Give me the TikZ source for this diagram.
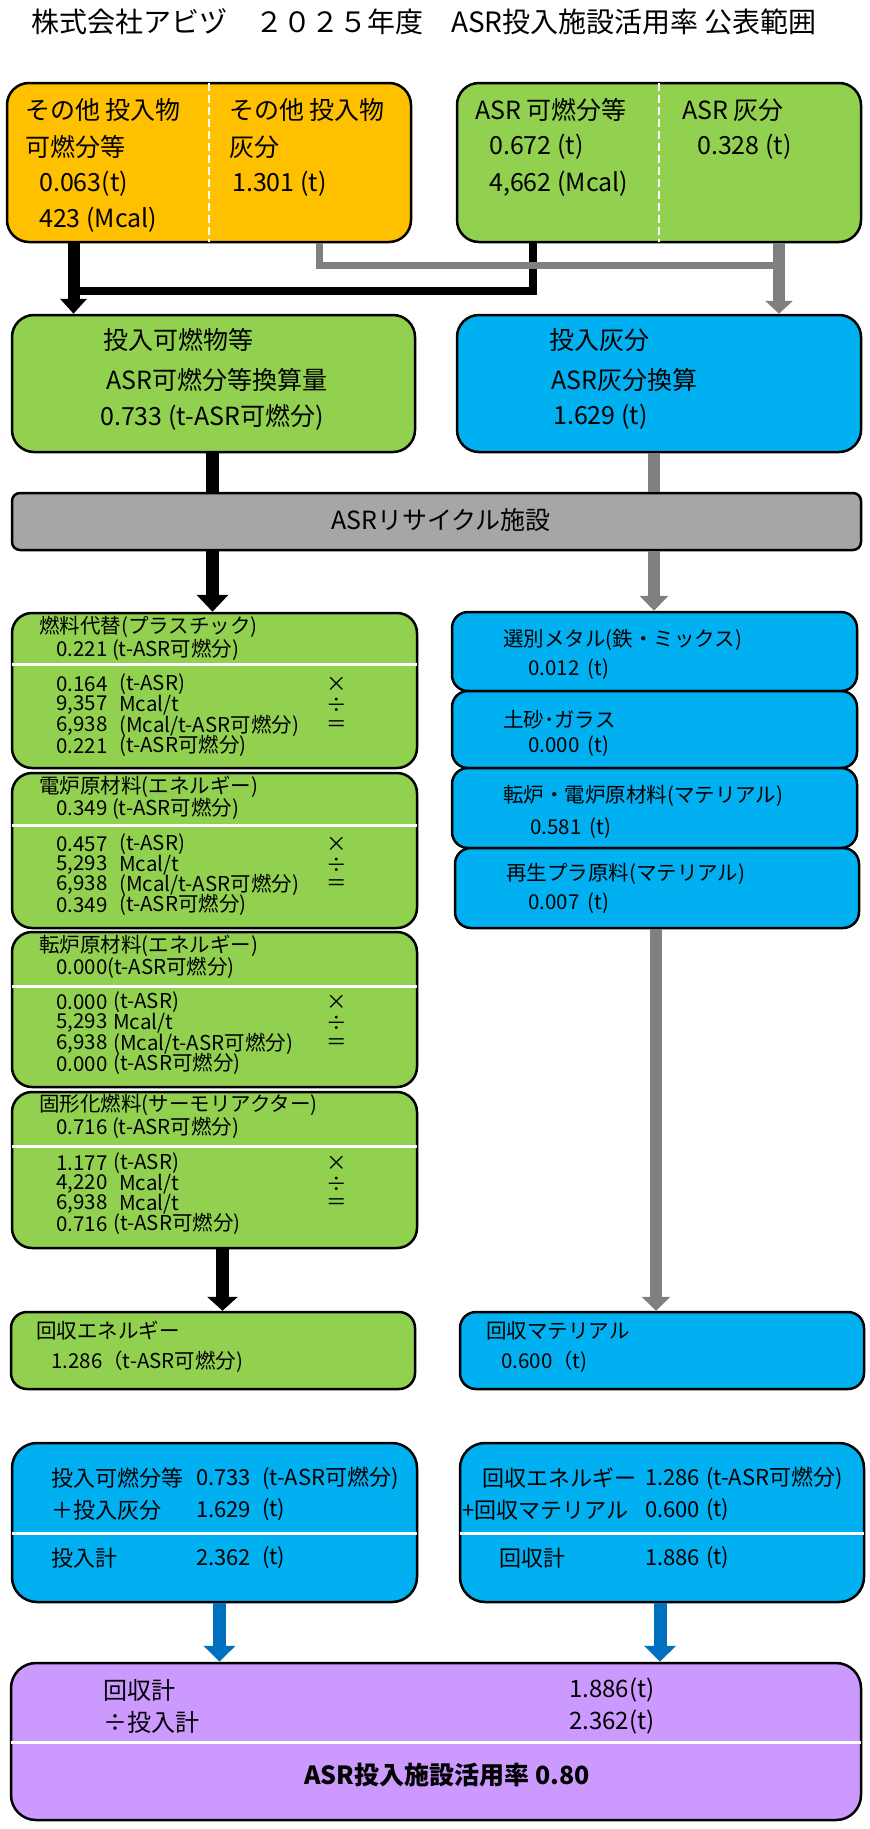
\documentclass[tikz,border=0pt]{standalone}
\usepackage{fontspec}
\setmainfont{Noto Sans CJK JP}
\usetikzlibrary{arrows.meta}
\definecolor{cOrange}{HTML}{FFC000}
\definecolor{cGreen}{HTML}{92D050}
\definecolor{cBlue}{HTML}{00B0F0}
\definecolor{cBar}{HTML}{A6A6A6}
\definecolor{cPurple}{HTML}{CC99FF}
\definecolor{cGrayArr}{HTML}{808080}
\definecolor{cBlueArr}{HTML}{0070C0}
\newcommand{\myrow}[6]{%
  \node[tb] (#1n) at (56,#2) {#3};
  \node[tb] (#1u) at (#4,#2) {#5};
  \node[opx] (#1o) at (337,#2) {#6};}
\newcommand{\myrowend}[5]{%
  \node[tb] (#1n) at (56,#2) {#3};
  \node[tb] (#1u) at (#4,#2) {#5};}
\begin{document}
\begin{tikzpicture}[x=1pt,y=-1pt,
  box/.style={draw=black, line width=2.5pt, rounded corners=#1, inner sep=0pt},
  box/.default=20pt,
  tt/.style={anchor=west, inner sep=0pt, font=\fontsize{28}{32}\selectfont},
  ta/.style={anchor=west, inner sep=0pt, font=\fontsize{25}{30}\selectfont},
  tb/.style={anchor=west, inner sep=0pt, font=\fontsize{20.5}{24}\selectfont},
  tc/.style={anchor=west, inner sep=0pt, font=\fontsize{22}{26}\selectfont},
  td/.style={anchor=west, inner sep=0pt, font=\fontsize{24}{28}\selectfont},
  opx/.style={anchor=center, inner sep=0pt, font=\fontsize{20.5}{24}\selectfont},
  wline/.style={draw=white, line width=3pt, shorten <=1.3pt, shorten >=1.3pt},
  dline/.style={draw=white, line width=2pt, dash pattern=on 8pt off 4pt, shorten <=1.3pt, shorten >=1.3pt},
  blk/.style={draw=black, line join=miter},
  gry/.style={draw=cGrayArr, line join=miter},
  blu/.style={draw=cBlueArr, line join=miter}
]
\fill[white] (0,0) rectangle (870,1829);
\useasboundingbox (0,0) rectangle (870,1829);

% title
\node[tt] (title) at (31,22) {株式会社アビヅ　２０２５年度　ASR投入施設活用率 公表範囲};

% top boxes
\node[box=22pt, fill=cOrange, minimum width=404pt, minimum height=159pt] (oth) at (209,162.5) {};
\node[box=22pt, fill=cGreen, minimum width=404pt, minimum height=159pt] (asr) at (659,162.5) {};
\draw[dline] (oth.north) -- (oth.south);
\draw[dline] (asr.north) -- (asr.south);
\node[ta] (o1) at (25,110) {その他 投入物};
\node[ta] (o2) at (25,147) {可燃分等};
\node[ta] (o3) at (39,184) {0.063(t)};
\node[ta] (o4) at (39,220) {423 (Mcal)};
\node[ta] (o5) at (229,110) {その他 投入物};
\node[ta] (o6) at (229,147) {灰分};
\node[ta] (o7) at (232,184) {1.301 (t)};
\node[ta] (g1) at (475,110) {ASR 可燃分等};
\node[ta] (g2) at (489,147) {0.672 (t)};
\node[ta] (g3) at (489,184) {4,662 (Mcal)};
\node[ta] (g4) at (682,110) {ASR 灰分};
\node[ta] (g5) at (697,147) {0.328 (t)};

% second row
\node[box=22pt, fill=cGreen, minimum width=403pt, minimum height=137pt] (inC) at (213.5,383.5) {};
\node[box=22pt, fill=cBlue, minimum width=404pt, minimum height=137pt] (inA) at (659,383.5) {};
\node[ta] (c1) at (103,340) {投入可燃物等};
\node[ta] (c2) at (106,380) {ASR可燃分等換算量};
\node[ta] (c3) at (100,417) {0.733 (t-ASR可燃分)};
\node[ta] (h1) at (549,340) {投入灰分};
\node[ta] (h2) at (551,380) {ASR灰分換算};
\node[ta] (h3) at (553,417) {1.629 (t)};

% facility bar
\node[box=8pt, fill=cBar, minimum width=849pt, minimum height=57pt] (bar) at (436.5,521.5) {};
\node[ta, anchor=center] (barT) at (441,520) {ASRリサイクル施設};

% left detail boxes
\node[box, fill=cGreen, minimum width=405pt, minimum height=155pt] (d1) at (214.5,690.5) {};
\node[box, fill=cGreen, minimum width=405pt, minimum height=155pt] (d2) at (214.5,850.5) {};
\node[box, fill=cGreen, minimum width=405pt, minimum height=155pt] (d3) at (214.5,1009.5) {};
\node[box, fill=cGreen, minimum width=405pt, minimum height=156pt] (d4) at (214.5,1170) {};
\coordinate (w1) at (0,664);
\coordinate (w2) at (0,825);
\coordinate (w3) at (0,986);
\coordinate (w4) at (0,1146);
\draw[wline] (d1.west |- w1) -- (d1.east |- w1);
\draw[wline] (d2.west |- w2) -- (d2.east |- w2);
\draw[wline] (d3.west |- w3) -- (d3.east |- w3);
\draw[wline] (d4.west |- w4) -- (d4.east |- w4);

\node[tb] (a0) at (39,627) {燃料代替(プラスチック)};
\node[tb] (av) at (56,650) {0.221 (t-ASR可燃分)};
\myrow{a1}{684}{0.164}{119}{(t-ASR)}{×}
\myrow{a2}{705}{9,357}{119}{Mcal/t}{÷}
\myrow{a3}{726}{6,938}{119}{(Mcal/t-ASR可燃分)}{＝}
\myrowend{a4}{746}{0.221}{119}{(t-ASR可燃分)}

\node[tb] (b0) at (39,787) {電炉原材料(エネルギー)};
\node[tb] (bv) at (56,809) {0.349 (t-ASR可燃分)};
\myrow{b1}{844}{0.457}{119}{(t-ASR)}{×}
\myrow{b2}{865}{5,293}{119}{Mcal/t}{÷}
\myrow{b3}{885}{6,938}{119}{(Mcal/t-ASR可燃分)}{＝}
\myrowend{b4}{905}{0.349}{119}{(t-ASR可燃分)}

\node[tb] (e0) at (39,946) {転炉原材料(エネルギー)};
\node[tb] (ev) at (56,968) {0.000(t-ASR可燃分)};
\myrow{e1}{1002}{0.000}{113}{(t-ASR)}{×}
\myrow{e2}{1023}{5,293}{113}{Mcal/t}{÷}
\myrow{e3}{1044}{6,938}{113}{(Mcal/t-ASR可燃分)}{＝}
\myrowend{e4}{1064}{0.000}{113}{(t-ASR可燃分)}

\node[tb] (f0) at (39,1105) {固形化燃料(サーモリアクター)};
\node[tb] (fv) at (56,1128) {0.716 (t-ASR可燃分)};
\myrow{f1}{1163}{1.177}{113}{(t-ASR)}{×}
\myrow{f2}{1184}{4,220}{119}{Mcal/t}{÷}
\myrow{f3}{1204}{6,938}{119}{Mcal/t}{＝}
\myrowend{f4}{1224}{0.716}{113}{(t-ASR可燃分)}

% right detail boxes
\node[box=16pt, fill=cBlue, minimum width=405pt, minimum height=79pt] (r1) at (654.5,651.5) {};
\node[box=16pt, fill=cBlue, minimum width=405pt, minimum height=77pt] (r2) at (654.5,729.5) {};
\node[box=16pt, fill=cBlue, minimum width=405pt, minimum height=80pt] (r3) at (654.5,808) {};
\node[box=16pt, fill=cBlue, minimum width=404pt, minimum height=80pt] (r4) at (657,888) {};
\node[tb] (r1a) at (503,640) {選別メタル(鉄・ミックス)};
\node[tb] (r1b) at (528,669) {0.012\hspace{0.4em}(t)};
\node[tb] (r2a) at (503,720) {土砂･ガラス};
\node[tb] (r2b) at (528,746) {0.000\hspace{0.4em}(t)};
\node[tb] (r3a) at (503,796) {転炉・電炉原材料(マテリアル)};
\node[tb] (r3b) at (530,828) {0.581\hspace{0.4em}(t)};
\node[tb] (r4a) at (506,874) {再生プラ原料(マテリアル)};
\node[tb] (r4b) at (528,903) {0.007\hspace{0.4em}(t)};

% recovered boxes
\node[box=16pt, fill=cGreen, minimum width=404pt, minimum height=77pt] (en) at (213,1350.5) {};
\node[box=16pt, fill=cBlue, minimum width=404pt, minimum height=77pt] (ma) at (662,1350.5) {};
\node[tb] (en1) at (36,1331) {回収エネルギー};
\node[tb] (en2) at (51,1362) {1.286（t-ASR可燃分)};
\node[tb] (ma1) at (486,1331) {回収マテリアル};
\node[tb] (ma2) at (501,1362) {0.600（t)};

% summary boxes
\node[box=25pt, fill=cBlue, minimum width=405pt, minimum height=159pt] (sl) at (214.5,1522.5) {};
\node[box=25pt, fill=cBlue, minimum width=404pt, minimum height=159pt] (sr) at (662,1522.5) {};
\coordinate (w5) at (0,1533);
\draw[wline] (sl.west |- w5) -- (sl.east |- w5);
\draw[wline] (sr.west |- w5) -- (sr.east |- w5);
\node[tc] (s1) at (51,1478) {投入可燃分等};
\node[tc] (s2) at (196,1478) {0.733};
\node[tc] (s3) at (262,1478) {(t-ASR可燃分)};
\node[tc] (s4) at (51,1510) {＋投入灰分};
\node[tc] (s5) at (196,1510) {1.629};
\node[tc] (s6) at (262,1510) {(t)};
\node[tc] (s7) at (51,1558) {投入計};
\node[tc] (s8) at (196,1558) {2.362};
\node[tc] (s9) at (262,1558) {(t)};
\node[tc] (q1) at (482,1478) {回収エネルギー};
\node[tc] (q2) at (645,1478) {1.286};
\node[tc] (q3) at (706,1478) {(t-ASR可燃分)};
\node[tc] (q4) at (462,1510) {+回収マテリアル};
\node[tc] (q5) at (645,1510) {0.600};
\node[tc] (q6) at (706,1510) {(t)};
\node[tc] (q7) at (499,1558) {回収計};
\node[tc] (q8) at (645,1558) {1.886};
\node[tc] (q9) at (706,1558) {(t)};

% result box
\node[box=25pt, fill=cPurple, minimum width=850pt, minimum height=157pt] (pu) at (436,1741.5) {};
\coordinate (w6) at (0,1742);
\draw[wline] (pu.west |- w6) -- (pu.east |- w6);
\node[td] (p1) at (103,1690) {回収計};
\node[td] (p2) at (103,1722) {÷投入計};
\node[td] (p3) at (569,1690) {1.886(t)};
\node[td] (p4) at (569,1722) {2.362(t)};
\node[anchor=center, inner sep=0pt, font=\fontsize{25}{30}\selectfont\bfseries] (p5) at (447,1775) {ASR投入施設活用率 0.80};

% connectors: top
\coordinate (xa) at (73.5,0);
\coordinate (xb) at (533,291);
\coordinate (xc) at (319,265);
\coordinate (xd) at (779,265);
\draw[blk, line width=8pt] (xb |- asr.south) -- (xb) -- (xa |- xb);
\draw[blk, line width=12pt, -{Triangle[width=26pt,length=15pt]}] (xa |- oth.south) -- (xa |- inC.north);
\draw[gry, line width=7pt] (xc |- oth.south) -- (xc) -- (xd);
\draw[gry, line width=12pt, -{Triangle[width=27pt,length=13pt]}] (xd |- asr.south) -- (xd |- inA.north);

% connectors: through facility
\coordinate (xe) at (212.5,0);
\coordinate (xf) at (654,0);
\draw[blk, line width=13pt] (xe |- inC.south) -- (xe |- bar.north);
\draw[gry, line width=12pt] (xf |- inA.south) -- (xf |- bar.north);
\draw[blk, line width=13pt, -{Triangle[width=31pt,length=17pt]}] (xe |- bar.south) -- (xe |- d1.north);
\draw[gry, line width=12pt, -{Triangle[width=28pt,length=15pt]}] (xf |- bar.south) -- (xf |- r1.north);

% connectors: to recovered
\coordinate (xg) at (222.5,0);
\coordinate (xh) at (656,0);
\draw[blk, line width=13pt, -{Triangle[width=30pt,length=14pt]}] (xg |- d4.south) -- (xg |- en.north);
\draw[gry, line width=12pt, -{Triangle[width=28pt,length=14pt]}] (xh |- r4.south) -- (xh |- ma.north);

% connectors: to result
\coordinate (xi) at (219.5,0);
\coordinate (xj) at (660,0);
\draw[blu, line width=13pt, -{Triangle[width=31pt,length=16pt]}] (xi |- sl.south) -- (xi |- pu.north);
\draw[blu, line width=13pt, -{Triangle[width=31pt,length=16pt]}] (xj |- sr.south) -- (xj |- pu.north);
\end{tikzpicture}
\end{document}
